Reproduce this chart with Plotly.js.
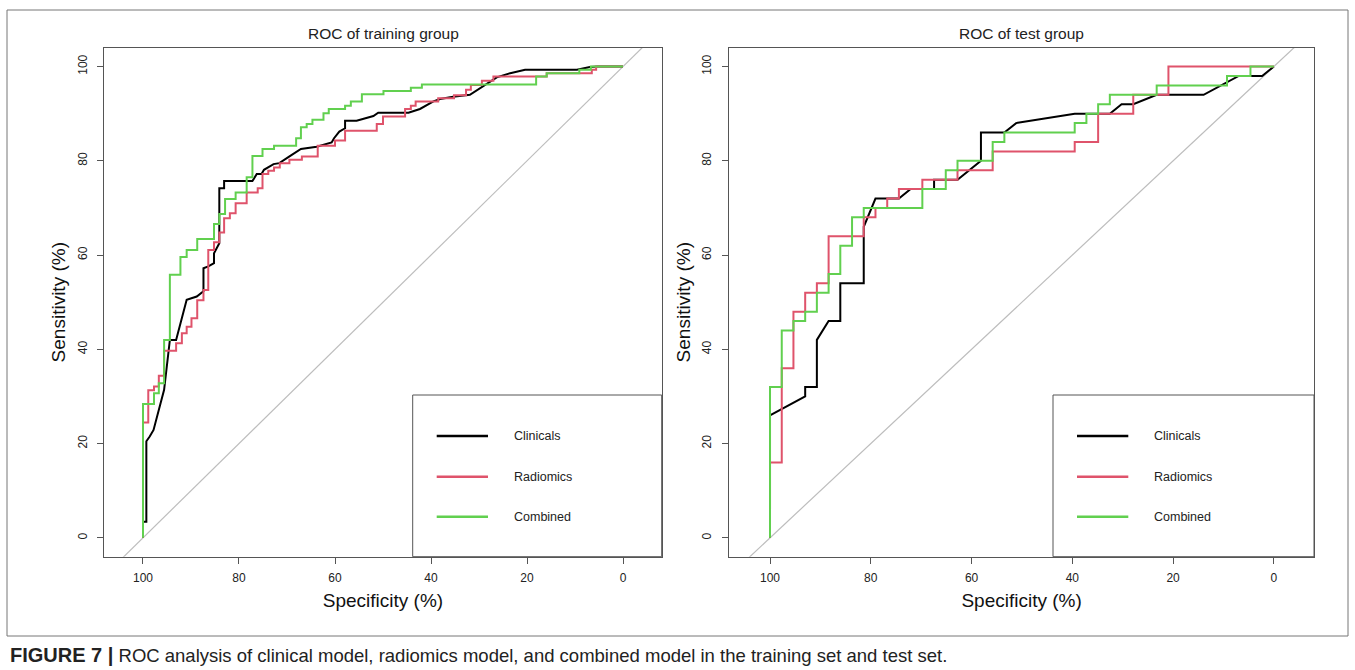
<!DOCTYPE html>
<html><head><meta charset="utf-8">
<script src="https://cdn.plot.ly/plotly-3.0.1.min.js"></script>
<style>html,body{margin:0;padding:0;background:#fff;} #chart{width:1355px;height:670px;}</style>
</head><body><div id="chart"></div>
<script>
// ---------------- data ----------------
const seriesNames = ['Clinicals', 'Radiomics', 'Combined'];
const seriesColors = ['#000000', '#DF536B', '#61D04F'];
const tickValues = [0, 20, 40, 60, 80, 100];
const panelTitles = ['ROC of training group', 'ROC of test group'];
const xTitle = 'Specificity (%)';
const yTitle = 'Sensitivity (%)';
const captionBold = 'FIGURE 7 |';
const captionText = 'ROC analysis of clinical model, radiomics model, and combined model in the training set and test set.';
const diagSpec = [130, -30];

// Training group
const trainClinSpec = [100,100,99.3,99.3,98.6,97.8,95.6,94.4,93.1,90.9,88.8,87.4,87.4,86.4,85.2,85.2,84.1,84.1,83.1,83.1,77.2,76.3,75.3,74.8,72.8,71.6,69.4,67.1,63.8,60.7,60.2,59.1,57.9,57.9,55.5,52,51,44.7,42.3,39.5,38.1,35.4,31.9,29.8,26.3,23.5,20.4,9.6,6.9,5.2,0];
const trainClinSens = [0,3.4,3.4,20.5,21.5,22.9,31.4,42,42,50.5,51.2,52.3,57.2,57.6,58.3,60.4,62.5,74.2,74.2,75.7,75.7,77.2,77.2,78.1,79.3,79.5,81,82.5,83,83.9,84.8,86.2,86.9,88.5,88.5,89.5,90.2,90.2,91,92.6,93.1,93.6,94,95.4,97.7,98.6,99.3,99.3,99.9,100,100];

const trainRadSpec = [100,100,98.9,98.9,97.7,97.7,96.7,96.7,95.6,95.6,93.1,93.1,91.9,91.9,90.9,90.9,89.9,89.9,88.7,88.7,87.4,87.4,86.4,86.4,85.2,85.2,84.1,84.1,83.1,83.1,81.9,81.9,80.7,80.7,78.4,78.4,76.1,76.1,75.1,75.1,73.9,73.9,72.7,72.7,71.5,71.5,69.5,69.5,66.9,66.9,63.6,63.6,60,60,57.9,57.9,51.3,51.3,50,50,45.4,45.4,44.2,44.2,43.2,43.2,38.5,38.5,35.2,35.2,32.7,32.7,31.7,31.7,29.4,29.4,27,27,15.9,15.9,6.5,6.5,5.6,5.6,0];
const trainRadSens = [0,24.5,24.5,31.3,31.3,32.1,32.1,34.4,34.4,39.7,39.7,41.3,41.3,43.4,43.4,44.8,44.8,46.6,46.6,50.4,50.4,52.6,52.6,61.1,61.1,62.7,62.7,64.8,64.8,67.8,67.8,68.9,68.9,71,71,73.3,73.3,74.2,74.2,77.2,77.2,77.9,77.9,78.6,78.6,79.5,79.5,80.2,80.2,80.9,80.9,83.2,83.2,84.3,84.3,86.4,86.4,87.8,87.8,89.4,89.4,91,91,91.7,91.7,92.6,92.6,93.3,93.3,93.9,93.9,95.1,95.1,96.1,96.1,97,97,97.9,97.9,98.6,98.6,99.3,99.3,100,100];

const trainCombSpec = [100,100,97.7,97.7,96.7,96.7,95.6,95.6,94.4,94.4,92.2,92.2,90.9,90.9,88.7,88.7,85.2,85.2,84.1,84.1,82.9,82.9,80.7,80.7,78.4,78.4,77.2,77.2,75.1,75.1,72.7,72.7,68.1,68.1,67.1,67.1,65.9,65.9,64.7,64.7,62.4,62.4,61.3,61.3,57.9,57.9,56.7,56.7,54.4,54.4,49.9,49.9,44.2,44.2,41.9,41.9,18.1,18.1,15.9,15.9,9.1,9.1,6.7,6.7,0];
const trainCombSens = [0,28.4,28.4,30.7,30.7,32.8,32.8,42,42,55.8,55.8,59.6,59.6,61.1,61.1,63.4,63.4,66.6,66.6,68.7,68.7,71.9,71.9,73.3,73.3,76.5,76.5,81,81,82.5,82.5,83.2,83.2,84.8,84.8,87.1,87.1,87.8,87.8,88.7,88.7,90.1,90.1,91,91,91.7,91.7,92.6,92.6,94.1,94.1,94.8,94.8,95.5,95.5,96.2,96.2,97.9,97.9,98.6,98.6,99.3,99.3,100,100];

// Test group
const testClinSpec = [100,100,93.02,93.02,90.7,90.7,88.37,86.05,86.05,81.4,81.4,79.07,74.42,72.09,67.44,67.44,62.79,58.14,58.14,53.49,51.16,39.53,32.56,30.23,27.91,23.26,13.95,6.98,2.33,0];
const testClinSens = [0,26,30,32,32,42,46,46,54,54,66,72,72,74,74,76,76,80,86,86,88,90,90,92,92,94,94,98,98,100];

const testRadSpec = [100,100,97.67,97.67,95.35,95.35,93.02,93.02,90.7,90.7,88.37,88.37,81.4,81.4,79.07,79.07,76.74,76.74,74.42,74.42,69.77,69.77,62.79,62.79,55.81,55.81,39.53,39.53,34.88,34.88,27.91,27.91,20.93,20.93,0];
const testRadSens = [0,16,16,36,36,48,48,52,52,54,54,64,64,68,68,70,70,72,72,74,74,76,76,78,78,82,82,84,84,90,90,94,94,100,100];

const testCombSpec = [100,100,97.67,97.67,95.35,95.35,93.02,93.02,90.7,90.7,88.37,88.37,86.05,86.05,83.72,83.72,81.4,81.4,69.77,69.77,65.12,65.12,62.79,62.79,55.81,55.81,53.49,53.49,39.53,39.53,37.21,37.21,34.88,34.88,32.56,32.56,23.26,23.26,9.3,9.3,4.65,4.65,0];
const testCombSens = [0,32,32,44,44,46,46,48,48,52,52,56,56,62,62,68,68,70,70,74,74,78,78,80,80,84,84,86,86,88,88,90,90,92,92,94,94,96,96,98,98,100,100];

// ---------------- layout helpers ----------------
const W = 1355, H = 670;
const FONT = 'Liberation Sans, Arial, Helvetica, sans-serif';
const px = v => v / W;
const py = v => 1 - v / H;
const panels = [
  {x0: 104.3, x1: 661.7, range: [108.06, -8.06], legendLeft: 412.7},
  {x0: 729.2, x1: 1314, range: [108.1, -7.96], legendLeft: 1053}
];
const plotTop = 47.7, plotBottom = 556.7;

const groups = [
  [[trainClinSpec, trainClinSens], [trainRadSpec, trainRadSens], [trainCombSpec, trainCombSens]],
  [[testClinSpec, testClinSens], [testRadSpec, testRadSens], [testCombSpec, testCombSens]]
];

const traces = [];
groups.forEach((g, pi) => {
  const xa = pi === 0 ? 'x' : 'x2', ya = pi === 0 ? 'y' : 'y2';
  traces.push({x: diagSpec, y: diagSpec.map(s => 100 - s), xaxis: xa, yaxis: ya, mode: 'lines',
    line: {color: '#BDBDBD', width: 1.2}, hoverinfo: 'skip', showlegend: false});
  g.forEach((s, si) => {
    traces.push({x: s[0], y: s[1], xaxis: xa, yaxis: ya, mode: 'lines', name: seriesNames[si],
      line: {color: seriesColors[si], width: 2}, showlegend: false});
  });
});

function xAxis(p) {
  return {domain: [px(p.x0), px(p.x1)], range: p.range, tickvals: tickValues, ticks: 'outside', ticklen: 6,
    tickcolor: '#555', tickwidth: 1, showline: true, mirror: true, linecolor: '#555', linewidth: 1,
    showgrid: false, zeroline: false, ticklabelstandoff: 4,
    tickfont: {family: FONT, size: 12, color: '#222'},
    title: {text: xTitle, font: {family: FONT, size: 19, color: '#111'}, standoff: 9}};
}
function yAxis(anchor) {
  return {domain: [py(plotBottom), py(plotTop)], range: [-4, 104], anchor: anchor, tickvals: tickValues,
    ticks: 'outside', ticklen: 6, tickcolor: '#555', tickwidth: 1, showline: true, mirror: true,
    linecolor: '#555', linewidth: 1, showgrid: false, zeroline: false, tickangle: -90, ticklabelstandoff: 6,
    tickfont: {family: FONT, size: 12, color: '#222'},
    title: {text: yTitle, font: {family: FONT, size: 19, color: '#111'}, standoff: 4}};
}

const shapes = [{type: 'rect', xref: 'paper', yref: 'paper', x0: px(7), x1: px(1348), y0: py(636), y1: py(10),
  line: {color: '#777', width: 1}, layer: 'below'}];
const annotations = [];
panels.forEach((p, pi) => {
  annotations.push({text: panelTitles[pi], xref: 'paper', yref: 'paper', x: px((p.x0 + p.x1) / 2), y: py(33),
    xanchor: 'center', yanchor: 'middle', showarrow: false, font: {family: FONT, size: 15.5, color: '#222'}});
  shapes.push({type: 'rect', xref: 'paper', yref: 'paper', x0: px(p.legendLeft), x1: px(p.x1),
    y0: py(plotBottom), y1: py(395), line: {color: '#555', width: 1}, fillcolor: '#fff', layer: 'above'});
  const rows = [436, 476.7, 516.7];
  seriesNames.forEach((n, si) => {
    shapes.push({type: 'line', xref: 'paper', yref: 'paper', x0: px(p.legendLeft + 24), x1: px(p.legendLeft + 75.3),
      y0: py(rows[si]), y1: py(rows[si]), line: {color: seriesColors[si], width: 2.5}, layer: 'above'});
    annotations.push({text: n, xref: 'paper', yref: 'paper', x: px(p.legendLeft + 99), y: py(rows[si]),
      xanchor: 'left', yanchor: 'middle', showarrow: false, font: {family: FONT, size: 12.5, color: '#222'}});
  });
});
annotations.push({text: '<span style="font-size:20px"><b>' + captionBold + '</b></span> ' + captionText,
  xref: 'paper', yref: 'paper', x: px(8), y: py(655), xanchor: 'left', yanchor: 'middle',
  showarrow: false, font: {family: FONT, size: 18.5, color: '#222'}});

const layout = {
  width: W, height: H, margin: {l: 0, r: 0, t: 0, b: 0}, paper_bgcolor: '#fff', plot_bgcolor: '#fff',
  showlegend: false,
  xaxis: Object.assign(xAxis(panels[0]), {anchor: 'y'}), yaxis: yAxis('x'),
  xaxis2: Object.assign(xAxis(panels[1]), {anchor: 'y2'}), yaxis2: yAxis('x2'),
  shapes: shapes, annotations: annotations
};
Plotly.newPlot('chart', traces, layout, {staticPlot: true, displayModeBar: false});
</script>
</body></html>
